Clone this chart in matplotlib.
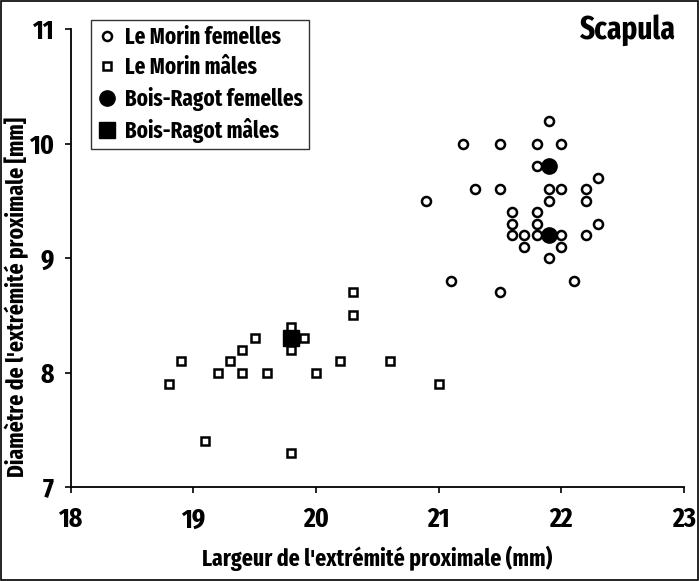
import matplotlib
matplotlib.use("Agg")
import matplotlib.pyplot as plt
import matplotlib.font_manager as fm
from matplotlib.patches import Rectangle

# Le Morin femelles (open circles)
morin_f_x = [21.9, 21.2, 21.5, 21.8, 22.0, 21.8, 22.3, 21.3, 21.5, 21.9, 22.0, 22.2,
             20.9, 21.9, 22.2, 21.6, 21.8, 21.6, 21.8, 22.3, 21.6, 21.7, 21.8, 22.0,
             22.2, 21.7, 22.0, 21.9, 21.1, 22.1, 21.5]
morin_f_y = [10.2, 10.0, 10.0, 10.0, 10.0, 9.8, 9.7, 9.6, 9.6, 9.6, 9.6, 9.6,
             9.5, 9.5, 9.5, 9.4, 9.4, 9.3, 9.3, 9.3, 9.2, 9.2, 9.2, 9.2,
             9.2, 9.1, 9.1, 9.0, 8.8, 8.8, 8.7]

# Le Morin mâles (open squares)
morin_m_x = [20.3, 20.3, 19.8, 19.9, 19.5, 19.4, 19.8, 18.9, 19.3, 20.2,
             20.6, 19.2, 19.4, 19.6, 20.0, 18.8, 21.0, 19.1, 19.8]
morin_m_y = [8.7, 8.5, 8.4, 8.3, 8.3, 8.2, 8.2, 8.1, 8.1, 8.1,
             8.1, 8.0, 8.0, 8.0, 8.0, 7.9, 7.9, 7.4, 7.3]

# Bois-Ragot
br_f_x = [21.9, 21.9]
br_f_y = [9.8, 9.2]
br_m_x = [19.8]
br_m_y = [8.3]

x_ticks = [18, 19, 20, 21, 22, 23]
y_ticks = [7, 8, 9, 10, 11]


def pick_condensed_bold():
    best, best_score = None, None
    for f in fm.fontManager.ttflist:
        key = (f.fname + " " + f.name).lower().replace(" ", "").replace("-", "").replace("_", "")
        if not any(k in key for k in ("condensed", "narrow", "cond")):
            continue
        if f.style != "normal" or "italic" in key or "oblique" in key:
            continue
        w = f.weight
        if isinstance(w, str):
            w = {"bold": 700, "normal": 400, "regular": 400}.get(w.lower(), 400)
        if w < 600:
            continue
        if "semicondensed" in key:
            c = 3
        elif "extracondensed" in key or "ultracondensed" in key:
            c = 0
        else:
            c = 1
        wscore = 0 if w == 700 else 1
        score = (c, wscore, key)
        if best_score is None or score < best_score:
            best, best_score = f, score
    return best


cf = pick_condensed_bold()
if cf is not None:
    def FP(size):
        return fm.FontProperties(fname=cf.fname, size=size)
else:
    def FP(size):
        return fm.FontProperties(family="DejaVu Sans", weight="bold", size=size)

W, H = 699, 581
fig = plt.figure(figsize=(W / 100, H / 100), dpi=100)
ax = fig.add_axes([70.5 / W, 1 - 487 / H, (684 - 70.5) / W, (487 - 29) / H])

ax.plot(morin_f_x, morin_f_y, linestyle='none', marker='o', markersize=6.5,
        markerfacecolor='white', markeredgecolor='black', markeredgewidth=1.8,
        label='Le Morin femelles')
ax.plot(morin_m_x, morin_m_y, linestyle='none', marker='s', markersize=6,
        markerfacecolor='white', markeredgecolor='black', markeredgewidth=1.8,
        label='Le Morin mâles')
ax.plot(br_f_x, br_f_y, linestyle='none', marker='o', markersize=11,
        color='black', label='Bois-Ragot femelles')
ax.plot(br_m_x, br_m_y, linestyle='none', marker='s', markersize=11,
        color='black', label='Bois-Ragot mâles')

ax.set_xlim(18, 23)
ax.set_ylim(7, 11)
ax.set_xticks(x_ticks)
ax.set_yticks(y_ticks)
ax.set_xticklabels([str(v) for v in x_ticks])
ax.set_yticklabels([str(v) for v in y_ticks])
ax.tick_params(direction='out', length=4, width=1.2)
ax.tick_params(axis='x', pad=10)
ax.tick_params(axis='y', pad=8)
for lab in ax.get_xticklabels() + ax.get_yticklabels():
    lab.set_fontproperties(FP(20))
for s in ['top', 'right']:
    ax.spines[s].set_visible(False)
for s in ['left', 'bottom']:
    ax.spines[s].set_linewidth(1.3)

xl = fig.text(377 / W, 1 - 558 / H, "Largeur de l'extrémité proximale (mm)",
              ha='center', va='center', fontproperties=FP(15))
yl = fig.text(17 / W, 1 - 297 / H, "Diamètre de l'extrémité proximale [mm]",
              ha='center', va='center', rotation=90, fontproperties=FP(13))
tt = fig.text(676 / W, 1 - 14 / H, "Scapula", ha='right', va='top',
              fontproperties=FP(15))


def fit(t, target, vertical=False):
    fig.canvas.draw()
    bb = t.get_window_extent()
    cur = bb.height if vertical else bb.width
    t.set_fontsize(t.get_fontsize() * target / cur)


for _ in range(2):
    fit(xl, 350)
    fit(yl, 360, vertical=True)
    fit(tt, 96)

# legend: fit font so "Bois-Ragot femelles" is ~177 px wide
leg_size = 14
for _ in range(2):
    leg = ax.legend(loc='upper left', bbox_to_anchor=(91 / W, 1 - 20 / H),
                    bbox_transform=fig.transFigure, borderaxespad=0,
                    frameon=True, fancybox=False, edgecolor='black',
                    handlelength=0.9, handletextpad=0.35, labelspacing=0.33,
                    borderpad=0.25, prop=FP(leg_size))
    fig.canvas.draw()
    wtxt = leg.get_texts()[2].get_window_extent().width
    leg_size = leg_size * 177 / wtxt
leg.get_frame().set_linewidth(1.0)

fig.patches.append(Rectangle((0.002, 0.002), 0.996, 0.996, transform=fig.transFigure,
                             fill=False, edgecolor='black', linewidth=1.2))

fig.savefig("out.png", dpi=100)
